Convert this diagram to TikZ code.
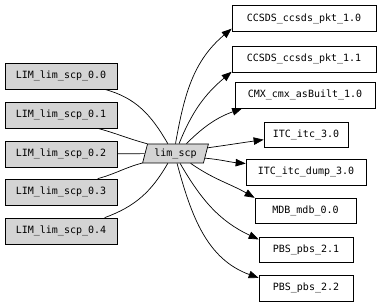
\documentclass[tikz,border=0pt]{standalone}
\usepackage{fontspec}
\setmonofont{DejaVu Sans Mono}
\usetikzlibrary{shapes.geometric,arrows.meta}

\begin{document}
\begin{tikzpicture}[x=1pt,y=1pt,font=\ttfamily\fontsize{10}{12}\selectfont,
  line width=0.7pt,
  lib/.style={draw,fill=black!17,minimum width=112pt,minimum height=26pt,inner sep=2pt},
  pkg/.style={draw,fill=white,minimum height=26pt,inner sep=2pt},
  comp/.style={draw,fill=black!17,trapezium,trapezium left angle=72,trapezium right angle=108,
    trapezium stretches=true,minimum width=66pt,minimum height=19pt,inner sep=1pt},
  dep/.style={-{Triangle[length=10pt,width=7.5pt]}}]
\useasboundingbox (0,0) rectangle (384,305);
% left column
\node[lib] (b0) at (61,229) {LIM\_lim\_scp\_0.0};
\node[lib] (b1) at (61,190) {LIM\_lim\_scp\_0.1};
\node[lib] (b2) at (61,151) {LIM\_lim\_scp\_0.2};
\node[lib] (b3) at (61,113) {LIM\_lim\_scp\_0.3};
\node[lib] (b4) at (61,74) {LIM\_lim\_scp\_0.4};
% centre
\node[comp] (lim) at (175.5,151.5) {lim\_scp};
% right column
\node[pkg,minimum width=144pt] (c0) at (304,286.5) {CCSDS\_ccsds\_pkt\_1.0};
\node[pkg,minimum width=144pt] (c1) at (304,246) {CCSDS\_ccsds\_pkt\_1.1};
\node[pkg,minimum width=140pt] (cmx) at (305,210) {CMX\_cmx\_asBuilt\_1.0};
\node[pkg,minimum width=84pt,minimum height=25pt] (i0) at (306,170.5) {ITC\_itc\_3.0};
\node[pkg,minimum width=120pt] (i1) at (306,133) {ITC\_itc\_dump\_3.0};
\node[pkg,minimum width=101pt,minimum height=25pt] (m0) at (305.5,94.5) {MDB\_mdb\_0.0};
\node[pkg,minimum width=94pt,minimum height=25pt] (p1) at (306,55.5) {PBS\_pbs\_2.1};
\node[pkg,minimum width=94pt] (p2) at (306,17) {PBS\_pbs\_2.2};
% inputs
\draw (b0.-17) to[out=-15,in=120] (lim.128);
\draw (b1.-20) to[out=-15,in=165] (lim.161);
\draw (b2) -- (lim);
\draw (b3.20) to[out=15,in=195] (lim.196);
\draw (b4.17) to[out=20,in=240] (lim.232);
% outputs
\draw[dep] (lim.90) to[out=80,in=220] (c0.188);
\draw[dep] (lim.70) to[out=68,in=220] (c1.190);
\draw[dep] (lim.42) to[out=45,in=200] (cmx.192);
\draw[dep] (lim.10) to[out=8,in=188] (i0.187);
\draw[dep] (lim.-9) to[out=-5,in=175] (i1.172);
\draw[dep] (lim.-33) to[out=-35,in=150] (m0.166);
\draw[dep] (lim.-65) to[out=-60,in=155] (p1.168);
\draw[dep] (lim.-81) to[out=-75,in=160] (p2.168);
\end{tikzpicture}
\end{document}
